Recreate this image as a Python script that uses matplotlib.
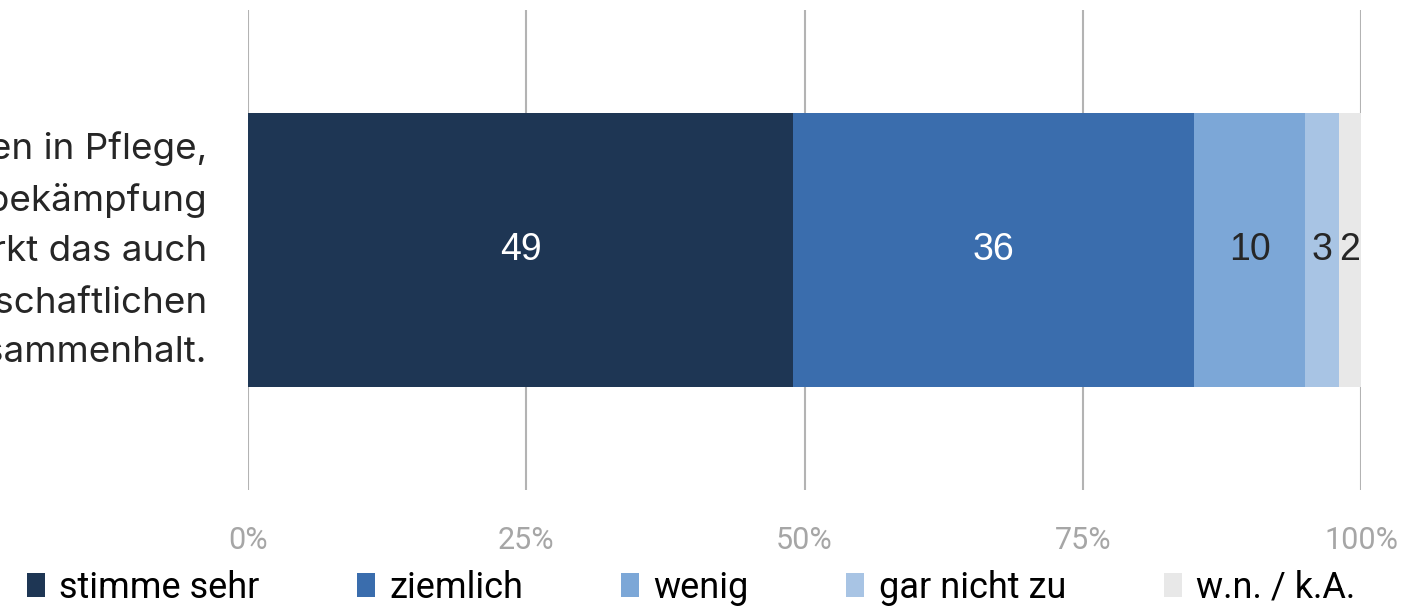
import matplotlib
matplotlib.use("Agg")
import matplotlib.pyplot as plt
from matplotlib.ticker import FixedLocator, FuncFormatter

categories = ["Wenn der Staat mehr Geld ausgibt für Investitionen in Pflege,\nBildung und Armutsbekämpfung\nstärkt das auch\nden gesellschaftlichen\nZusammenhalt."]
series_names = ["stimme sehr", "ziemlich", "wenig", "gar nicht zu", "w.n. / k.A."]
values = [49, 36, 10, 3, 2]
colors = ["#1e3654", "#3a6dad", "#7ca7d7", "#a8c4e4", "#e8e8e8"]
label_colors = ["white", "white", "#262626", "#262626", "#262626"]
tick_values = [0, 25, 50, 75, 100]

narrow = ["Liberation Sans Narrow", "Roboto", "DejaVu Sans"]

fig = plt.figure(figsize=(14.09, 6.08), dpi=100)
ax = fig.add_axes([248/1409, 1-490/608, (1361-248)/1409, 480/608])

left = 0
for name, v, c, lc in zip(series_names, values, colors, label_colors):
    bars = ax.barh([0], [v], left=[left], height=0.571, color=c, label=name, zorder=2)
    ax.bar_label(bars, labels=[str(v)], label_type="center", color=lc,
                 fontsize=27, family=["Liberation Sans", "DejaVu Sans"])
    left += v

ax.set_xlim(0, 100)
ax.set_ylim(-0.5, 0.5)
ax.xaxis.set_major_locator(FixedLocator(tick_values))
ax.xaxis.set_major_formatter(FuncFormatter(lambda x, p: f"{int(x)}%"))
ax.grid(axis="x", color="#b3b3b3", linewidth=1.5, zorder=0)
ax.set_axisbelow(True)
for s in ax.spines.values():
    s.set_visible(False)
ax.tick_params(axis="x", length=0, pad=26, labelcolor="#a6a6a6", labelsize=22)
for t in ax.get_xticklabels():
    t.set_family(narrow)
ax.set_yticks([])

ax.text(-41/1113*100, 0, categories[0], ha="right", va="center", fontsize=26.5,
        color="#262626", family=["Inter", "DejaVu Sans"], linespacing=1.62,
        transform=ax.transData, clip_on=False)

leg = fig.legend(loc="center", bbox_to_anchor=(691/1409, 1-588/608), ncol=5,
                 frameon=False, prop={"family": narrow, "size": 26},
                 handlelength=0.5, handleheight=0.65, handletextpad=0.4,
                 columnspacing=2.7, borderaxespad=0, borderpad=0)

fig.savefig("out.png", dpi=100)
